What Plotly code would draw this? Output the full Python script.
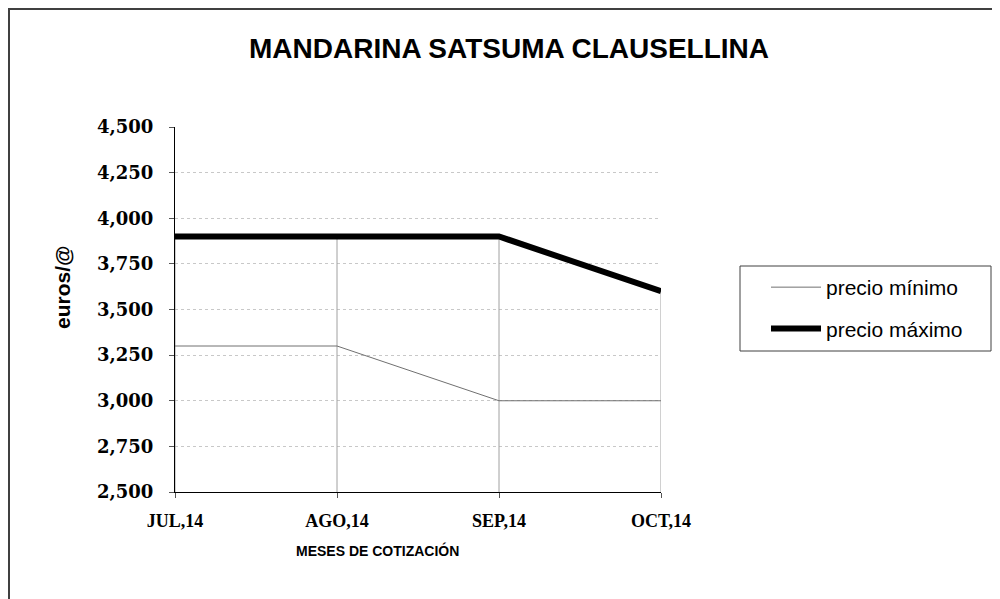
import plotly.graph_objects as go

months = ["JUL,14", "AGO,14", "SEP,14", "OCT,14"]
precio_minimo = [3.3, 3.3, 3.0, 3.0]
precio_maximo = [3.9, 3.9, 3.9, 3.6]
y_ticks = [2.5, 2.75, 3.0, 3.25, 3.5, 3.75, 4.0, 4.25, 4.5]

W, H = 1000, 599
OFF = 8  # page offset of the figure in the browser
L, T = 175 - OFF, 127 - OFF
PW, PH = 486, 365
R, B = W - L - PW, H - T - PH


def px(sx):
    return (sx - OFF - L) / PW


def py(sy):
    return (T + PH - (sy - OFF)) / PH


x_idx = list(range(len(months)))

fig = go.Figure()

# drop lines from the highest point to the axis
dx, dy = [], []
for i, (a, b) in enumerate(zip(precio_minimo, precio_maximo)):
    dx += [i, i, None]
    dy += [y_ticks[0], max(a, b), None]
fig.add_trace(go.Scatter(x=dx, y=dy, mode="lines", line=dict(color="#a0a0a0", width=1),
                         showlegend=False, hoverinfo="skip"))

fig.add_trace(go.Scatter(x=x_idx, y=precio_minimo, mode="lines", name="precio mínimo",
                         legendgroup="a", line=dict(color="#707070", width=1)))
fig.add_trace(go.Scatter(x=x_idx, y=precio_maximo, mode="lines", name="precio máximo",
                         legendgroup="b", line=dict(color="#000000", width=6)))

# outer chart frame (extends past the right and bottom edges)
fig.add_shape(type="rect", xref="paper", yref="paper",
              x0=px(9), x1=px(1100), y0=py(700), y1=py(9),
              line=dict(color="#404040", width=2), fillcolor="rgba(0,0,0,0)", layer="below")
# legend frame
fig.add_shape(type="rect", xref="paper", yref="paper",
              x0=px(740), x1=px(991), y0=py(351), y1=py(266),
              line=dict(color="#404040", width=1), fillcolor="rgba(0,0,0,0)")

fig.add_annotation(text="<b>euros/@</b>", xref="paper", yref="paper",
                   x=px(62), y=py(287), xanchor="center", yanchor="middle",
                   textangle=-90, showarrow=False,
                   font=dict(family="Liberation Sans, Arial", size=21, color="black"))
fig.add_annotation(text="<b>MESES DE COTIZACIÓN</b>", xref="paper", yref="paper",
                   x=px(377), y=py(550), xanchor="center", yanchor="middle",
                   showarrow=False,
                   font=dict(family="Liberation Sans, Arial", size=14, color="black"))

fig.update_layout(
    width=W, height=H,
    margin=dict(l=L, r=R, t=T, b=B),
    paper_bgcolor="white", plot_bgcolor="white",
    title=dict(text="<b>MANDARINA SATSUMA CLAUSELLINA</b>", x=(509 - OFF) / W, xanchor="center",
               y=1 - (48 - OFF) / H, yanchor="middle",
               font=dict(family="Liberation Sans, Arial", size=28, color="black")),
    legend=dict(x=px(766), y=py(267), xanchor="left", yanchor="top",
                borderwidth=0, bgcolor="rgba(0,0,0,0)",
                font=dict(family="Liberation Sans, Arial", size=21, color="black"),
                traceorder="grouped", tracegroupgap=11, itemwidth=50),
    showlegend=True,
)

fig.update_xaxes(
    range=[0, len(months) - 1], tickmode="array", tickvals=x_idx, ticktext=months,
    showline=True, linecolor="black", linewidth=1, showgrid=False, zeroline=False,
    ticks="outside", ticklen=5, tickcolor="#555", ticklabelstandoff=7,
    tickfont=dict(family="Liberation Serif, Times New Roman", size=18, color="black", weight="bold"),
)
fig.update_yaxes(
    range=[y_ticks[0], y_ticks[-1]], tickmode="array", tickvals=y_ticks,
    ticktext=[f"{v:.3f}".replace(".", ",") for v in y_ticks],
    showline=True, linecolor="black", linewidth=1, zeroline=False,
    showgrid=True, gridcolor="#c8c8c8", griddash="dot", gridwidth=1,
    ticks="outside", ticklen=5, tickcolor="#555", ticklabelstandoff=12,
    tickfont=dict(family="DejaVu Serif", size=18, color="black", weight="bold"),
)

fig.write_html("out.html")
